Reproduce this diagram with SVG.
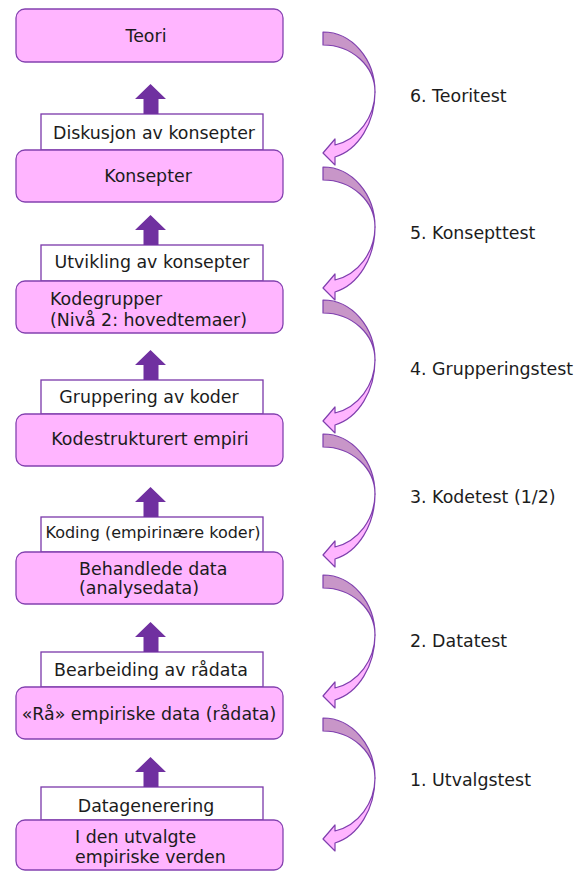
<svg xmlns="http://www.w3.org/2000/svg" width="587" height="871" viewBox="0 0 587 871">
<style>
.box{fill:#ffb5ff;stroke:#8442b0;stroke-width:1.3}
.lbl{fill:#ffffff;stroke:#7a38aa;stroke-width:1.3}
.up{fill:#7030a0}
.dk{fill:#c896c8;stroke:#7f3fae;stroke-width:1.2;stroke-linejoin:round}
.lt{fill:#ffb5ff;stroke:#7f3fae;stroke-width:1.2;stroke-linejoin:round}
text{font-family:"DejaVu Sans","Verdana",sans-serif;font-size:17.4px;fill:#1c1c1c}
.c{text-anchor:middle}
</style>
<defs>
<path id="upArrow" class="up" d="M0,0 L15.5,15 L8,15 L8,30 L-7,30 L-7,15 L-15.5,15 Z"/>
<g id="curve">
<path class="dk" d="M323,0 A52,60 0 0 1 375,60 A52,47 0 0 0 323,13 Z"/>
<path class="lt" d="M375,60 A52,67 0 0 1 335,125 L335,133 L323,121 L335,107 L335,113 A52,55 0 0 0 375,60 Z"/>
</g>
</defs>

<g id="node-teori">
<rect class="box" x="16" y="9" width="267" height="53" rx="9"/>
<text class="c" x="146" y="42">Teori</text>
</g>

<g id="node-konsepter">
<rect class="lbl" x="41" y="114" width="222" height="36"/>
<text class="c" x="154" y="139">Diskusjon av konsepter</text>
<rect class="box" x="16" y="150" width="267" height="52" rx="9"/>
<text class="c" x="148" y="182">Konsepter</text>
</g>

<g id="node-kodegrupper">
<rect class="lbl" x="41" y="245" width="222" height="36"/>
<text class="c" x="152" y="268">Utvikling av konsepter</text>
<rect class="box" x="16" y="281" width="267" height="52" rx="9"/>
<text x="50" y="305">Kodegrupper</text>
<text x="50" y="326">(Nivå 2: hovedtemaer)</text>
</g>

<g id="node-kodestrukturert">
<rect class="lbl" x="41" y="380" width="222" height="34"/>
<text class="c" x="149" y="403">Gruppering av koder</text>
<rect class="box" x="16" y="414" width="267" height="52" rx="9"/>
<text class="c" x="150" y="445">Kodestrukturert empiri</text>
</g>

<g id="node-behandlede">
<rect class="lbl" x="41" y="517" width="222" height="35"/>
<text class="c" x="153" y="538" style="font-size:16px">Koding (empirinære koder)</text>
<rect class="box" x="16" y="552" width="267" height="52" rx="9"/>
<text x="79" y="575">Behandlede data</text>
<text x="79" y="594">(analysedata)</text>
</g>

<g id="node-raadata">
<rect class="lbl" x="41" y="652" width="222" height="35"/>
<text class="c" x="151" y="676">Bearbeiding av rådata</text>
<rect class="box" x="16" y="687" width="267" height="52" rx="9"/>
<text class="c" x="149" y="720">«Rå» empiriske data (rådata)</text>
</g>

<g id="node-verden">
<rect class="lbl" x="41" y="787" width="222" height="33"/>
<text class="c" x="146" y="812">Datagenerering</text>
<rect class="box" x="16" y="820" width="267" height="50" rx="9"/>
<text x="75" y="843">I den utvalgte</text>
<text x="75" y="863">empiriske verden</text>
</g>

<g id="connectors">
<use href="#upArrow" x="150.5" y="84"/>
<use href="#upArrow" x="150.5" y="215"/>
<use href="#upArrow" x="150.5" y="350"/>
<use href="#upArrow" x="150.5" y="487"/>
<use href="#upArrow" x="150.5" y="622"/>
<use href="#upArrow" x="150.5" y="757"/>
<use href="#curve" x="0" y="32"/>
<use href="#curve" x="0" y="167"/>
<use href="#curve" x="0" y="300"/>
<use href="#curve" x="0" y="434"/>
<use href="#curve" x="0" y="575"/>
<use href="#curve" x="0" y="718"/>
</g>

<g id="test-labels">
<text x="410" y="102">6. Teoritest</text>
<text x="410" y="239">5. Konsepttest</text>
<text x="410" y="375">4. Grupperingstest</text>
<text x="410" y="503">3. Kodetest (1/2)</text>
<text x="410" y="647">2. Datatest</text>
<text x="410" y="786">1. Utvalgstest</text>
</g>
</svg>
